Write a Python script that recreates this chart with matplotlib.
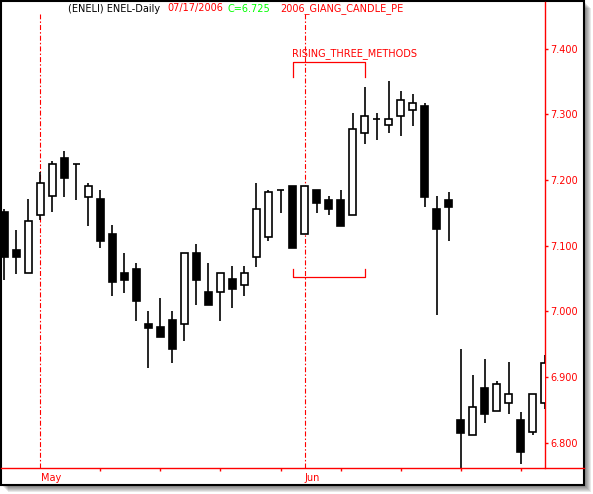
import matplotlib
matplotlib.use("Agg")
import matplotlib.pyplot as plt
import matplotlib.transforms as mtransforms
from matplotlib.patches import Rectangle
from matplotlib.lines import Line2D

# daily candles (oldest first)
opens = [7.151, 7.093, 7.058, 7.146, 7.175, 7.233, 7.224, 7.174, 7.171, 7.118,
         7.058, 7.064, 6.981, 6.976, 6.987, 6.980, 7.088, 7.029, 7.029, 7.049,
         7.040, 7.082, 7.113, 7.184, 7.191, 7.117, 7.184, 7.170, 7.170, 7.146,
         7.272, 7.292, 7.283, 7.297, 7.306, 7.312, 7.155, 7.170, 6.835, 6.811,
         6.883, 6.849, 6.860, 6.835, 6.816, 6.860]
highs = [7.156, 7.123, 7.171, 7.212, 7.229, 7.244, 7.224, 7.195, 7.185, 7.131,
         7.089, 7.074, 7.000, 7.020, 7.000, 7.088, 7.102, 7.074, 7.058, 7.069,
         7.069, 7.195, 7.185, 7.184, 7.191, 7.191, 7.184, 7.175, 7.184, 7.302,
         7.341, 7.302, 7.351, 7.335, 7.331, 7.317, 7.175, 7.181, 6.943, 6.903,
         6.927, 6.894, 6.923, 6.846, 6.874, 6.933]
lows = [7.048, 7.057, 7.058, 7.139, 7.151, 7.174, 7.169, 7.130, 7.097, 7.024,
        7.028, 6.986, 6.913, 6.961, 6.922, 6.955, 7.009, 7.009, 6.986, 7.005,
        7.024, 7.068, 7.107, 7.150, 7.097, 7.117, 7.150, 7.146, 7.130, 7.146,
        7.254, 7.261, 7.272, 7.267, 7.282, 7.159, 6.994, 7.107, 6.755, 6.811,
        6.830, 6.849, 6.844, 6.767, 6.811, 6.852]
closes = [7.082, 7.082, 7.137, 7.195, 7.224, 7.203, 7.224, 7.190, 7.107, 7.044,
          7.048, 7.015, 6.975, 6.961, 6.942, 7.088, 7.048, 7.009, 7.058, 7.034,
          7.058, 7.155, 7.181, 7.184, 7.097, 7.191, 7.165, 7.155, 7.130, 7.277,
          7.297, 7.292, 7.292, 7.321, 7.317, 7.174, 7.126, 7.159, 6.815, 6.854,
          6.844, 6.889, 6.874, 6.786, 6.874, 6.922]

price_ticks = [6.8, 6.9, 7.0, 7.1, 7.2, 7.3, 7.4]
week_ticks = [8, 13, 18, 23, 28, 33, 38, 43]
month_starts = [3, 25]
month_names = ["May", "Jun"]
pattern_start, pattern_end = 24, 30

W, H = 593, 494
plt.rcParams["lines.scale_dashes"] = False
plt.rcParams["font.family"] = "DejaVu Sans"
fig = plt.figure(figsize=(W / 100, H / 100), dpi=100)
fig.patch.set_facecolor("white")


def fx(x):
    return x / W


def fy(y):
    return 1 - y / H


# drop shadow + white panel with black border
for k in range(1, 8):
    fig.patches.append(Rectangle((fx(1 + k), fy(485 + k)), fx(583), 484 / H,
                                 transform=fig.transFigure, fc="black",
                                 ec="none", alpha=0.09, zorder=-3))
fig.patches.append(Rectangle((fx(1), fy(485)), fx(583), 484 / H,
                             transform=fig.transFigure, fc="white",
                             ec="black", lw=1.5, zorder=-2))

ax = fig.add_axes([fx(1), fy(468), fx(544), 466 / H])
ax.set_facecolor("none")

red = "#ff0000"
bw = 0.62
for i in range(len(opens)):
    o, h, l, c = opens[i], highs[i], lows[i], closes[i]
    ax.plot([i, i], [l, h], color="black", lw=1.2, zorder=3,
            solid_capstyle="butt")
    if abs(c - o) < 1e-9:
        ax.plot([i - bw / 2, i + bw / 2], [o, o], color="black", lw=1.2,
                zorder=4, solid_capstyle="butt")
    else:
        fc = "white" if c > o else "black"
        ax.add_patch(Rectangle((i - bw / 2, min(o, c)), bw, abs(c - o),
                               fc=fc, ec="black", lw=1.2, zorder=4))

ax.set_xlim(-0.29, 45.04)
ax.set_ylim(6.7615, 7.4708)

# month separators
top_frac = (468 - 14) / 466
for m, name in zip(month_starts, month_names):
    ax.axvline(m, ymin=0, ymax=top_frac, color=red, lw=0.8,
               linestyle=(0, (3.6, 1.5, 1.1, 1.5)), zorder=2)
    trans = mtransforms.blended_transform_factory(ax.transData, ax.transAxes)
    ax.text(m + 0.02, -0.022, name, transform=trans, color=red, fontsize=7,
            ha="left", va="center", clip_on=False)

# rising three methods marker
ax.plot([pattern_start, pattern_start, pattern_end, pattern_end],
        [7.356, 7.380, 7.380, 7.356], color=red, lw=0.9, zorder=2)
ax.plot([pattern_start, pattern_start, pattern_end, pattern_end],
        [7.065, 7.052, 7.052, 7.065], color=red, lw=0.9, zorder=2)
ax.text(pattern_start - 0.05, 7.393, "RISING_THREE_METHODS", color=red,
        fontsize=7, ha="left", va="center")

# axes styling
for s in ["left", "top", "bottom"]:
    ax.spines[s].set_visible(False)
ax.spines["right"].set_color(red)
ax.spines["right"].set_linewidth(1.0)
ax.yaxis.tick_right()
ax.set_yticks(price_ticks)
ax.set_yticklabels(["%.3f" % p for p in price_ticks])
ax.tick_params(axis="y", colors=red, length=2.5, width=1.0, pad=1.5,
               labelsize=7)
ax.set_xticks(week_ticks)
ax.set_xticklabels([])
ax.tick_params(axis="x", colors=red, length=2.5, width=1.0, direction="out")

# bottom red line running across the full panel
fig.lines.append(Line2D([fx(1), fx(584)], [fy(468), fy(468)],
                        transform=fig.transFigure, color=red, lw=1.0))

# header
ty = fy(8.5)
fig.text(fx(68), ty, "(ENELI) ENEL-Daily", color="black", fontsize=7, va="center")
fig.text(fx(167), ty, "07/17/2006", color=red, fontsize=7, va="center")
fig.text(fx(228), ty, "C=6.725", color="#00ff00", fontsize=7, va="center")
fig.text(fx(280), ty, "2006_GIANG_CANDLE_PE", color=red, fontsize=7, va="center")

fig.savefig("out.png", dpi=100)
